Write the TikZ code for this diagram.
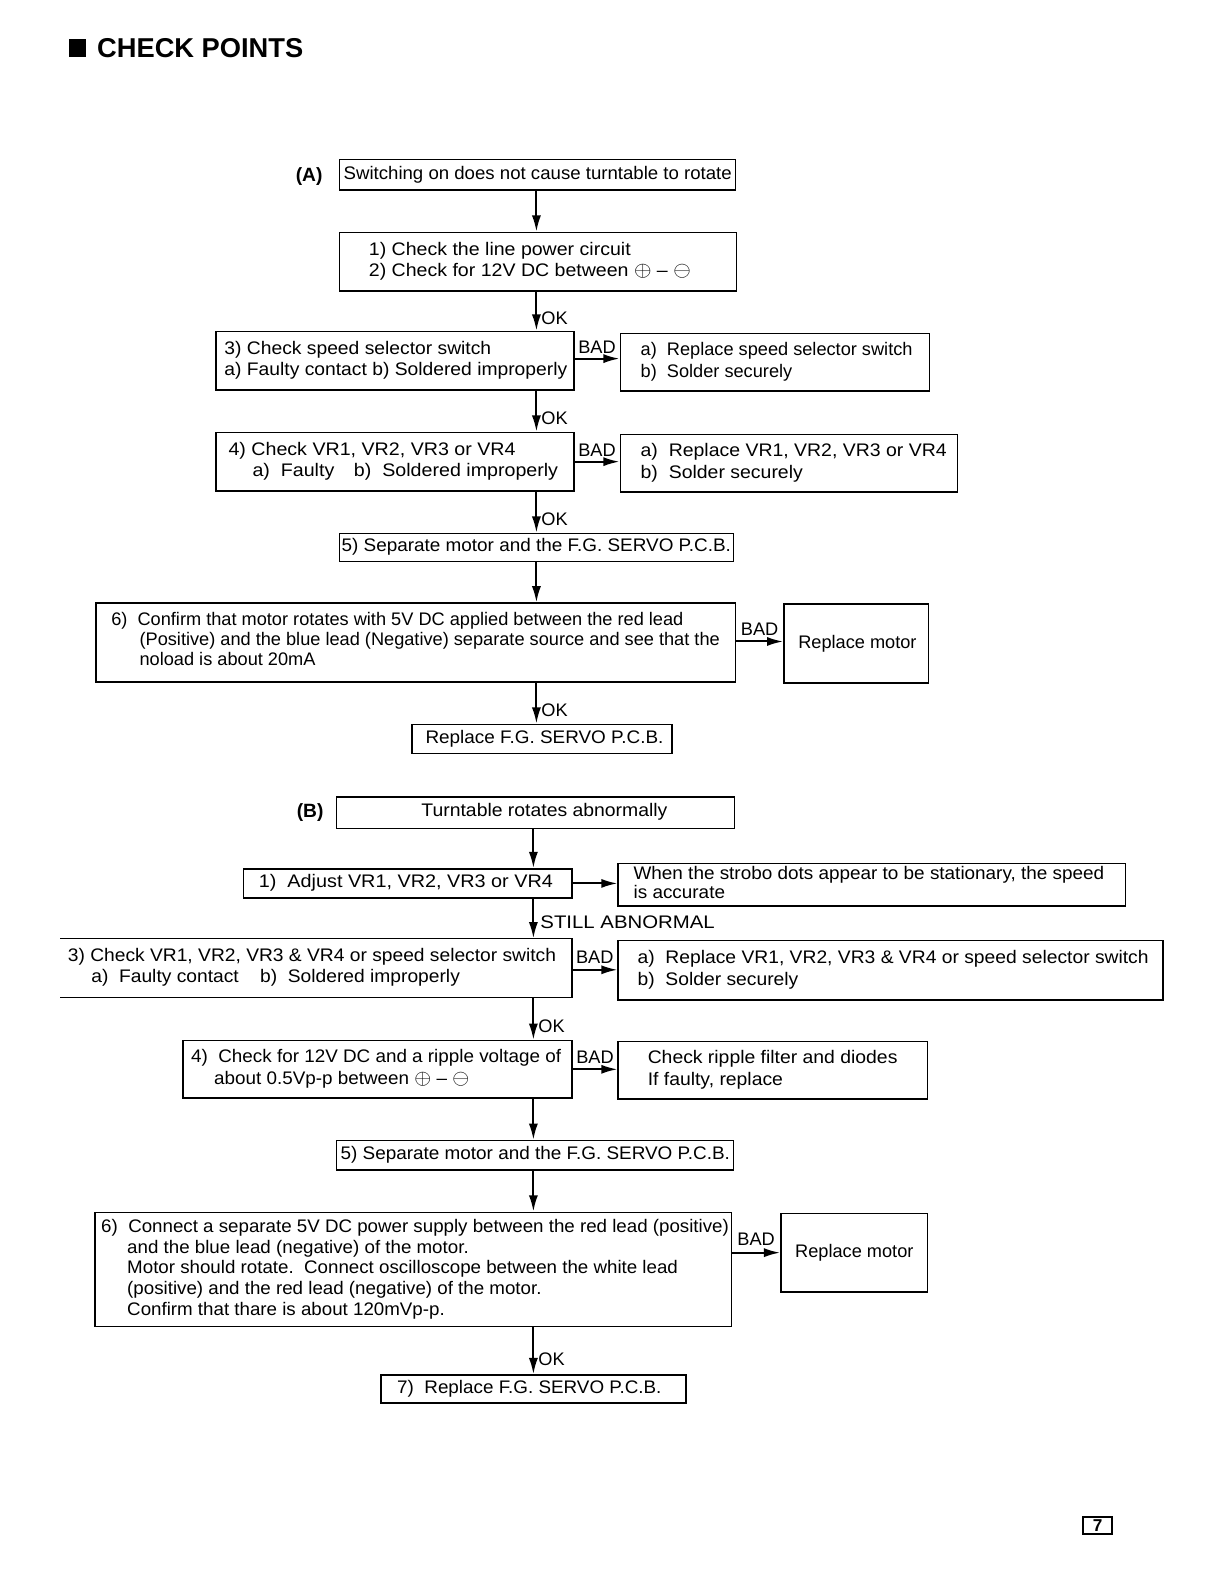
\documentclass[tikz,border=0pt]{standalone}
\usepackage{fontspec}
\usepackage{graphicx}
\setmainfont{Liberation Sans}
\usetikzlibrary{arrows.meta,calc}
\newcommand\sxl[2]{\scalebox{#1}[1]{\begin{tabular}{@{}l@{}}#2\end{tabular}}}
\newcommand\opl{\scalebox{1.2}{$\oplus$}}
\newcommand\omi{\scalebox{1.2}{$\ominus$}}
\begin{document}
\begin{tikzpicture}[x=1pt,y=-1pt,
  box/.style={draw, line width=1.5pt, inner sep=0pt},
  txt/.style={inner sep=0pt, align=left, font=\fontsize{18}{21}\selectfont, anchor=west},
  lbl/.style={inner sep=0pt, font=\fontsize{18}{21}\selectfont},
  arr/.style={line width=2pt, -{Latex[length=16pt,width=9pt]}}]
\useasboundingbox (0,0) rectangle (1212,1568);

% title
\node[fill=black, minimum width=17pt, minimum height=17pt, inner sep=0pt] (bullet) at (77,47.5) {};
\node[inner sep=0pt, anchor=base west, font=\fontsize{27}{30}\selectfont\bfseries] (title) at (96,57) {CHECK POINTS};

% ---------------- (A) ----------------
\node[lbl, font=\fontsize{19}{22}\selectfont\bfseries] (labA) at (306,175) {(A)};
\coordinate (xA) at (531,0);

\node[box, minimum width=392pt, minimum height=30pt] (A0) at (532,173) {};
\node[txt] (A0t) at (340,173) {\sxl{1.024}{Switching on does not cause turntable to rotate}};

\node[box, minimum width=393pt, minimum height=58pt] (A1) at (532.5,259) {};
\node[txt] (A1t) at (365,259) {\sxl{1.075}{1) Check the line power circuit\\2) Check for 12V DC between \opl{} -- \omi}};

\node[box, minimum width=354pt, minimum height=58pt] (A3) at (391,357) {};
\node[txt] (A3t) at (222,357) {\sxl{1.06}{3) Check speed selector switch\\a) Faulty contact b) Soldered improperly}};

\node[box, minimum width=306pt, minimum height=57pt] (A3R) at (767,358.5) {};
\node[txt] (A3Rt) at (634,358.5) {\sxl{1.0}{a)\ \ Replace speed selector switch\\b)\ \ Solder securely}};

\node[box, minimum width=354pt, minimum height=58pt] (A4) at (391,457) {};
\node[txt] (A4t) at (226,457) {\sxl{1.08}{4) Check VR1, VR2, VR3 or VR4\\\hspace*{22pt}a)\ \ Faulty\hspace{18pt}b)\ \ Soldered improperly}};

\node[box, minimum width=334pt, minimum height=57pt] (A4R) at (781,458.5) {};
\node[txt] (A4Rt) at (634,458.5) {\sxl{1.07}{a)\ \ Replace VR1, VR2, VR3 or VR4\\b)\ \ Solder securely}};

\node[box, minimum width=390pt, minimum height=28pt] (A5) at (531,542) {};
\node[txt] (A5t) at (338,542) {\sxl{1.04}{5) Separate motor and the F.G. SERVO P.C.B.}};

\node[box, minimum width=633pt, minimum height=78pt] (A6) at (411.5,636) {};
\node[txt, font=\fontsize{18}{20}\selectfont] (A6t) at (110,635) {\sxl{1.0}{6)\ \ Confirm that motor rotates with 5V DC applied between the red lead\\\hspace*{28pt}(Positive) and the blue lead (Negative) separate source and see that the\\\hspace*{28pt}noload is about 20mA}};

\node[box, minimum width=143pt, minimum height=78pt] (A6R) at (847.5,637) {};
\node[txt] (A6Rt) at (790,637) {Replace motor};

\node[box, minimum width=257pt, minimum height=29pt] (A7) at (536.5,731.5) {};
\node[txt] (A7t) at (421,731.5) {\sxl{1.04}{Replace F.G. SERVO P.C.B.}};

% arrows A
\draw[arr] (A0.south -| xA) -- (A1.north -| xA);
\draw[arr] (A1.south -| xA) -- (A3.north -| xA) node[lbl, pos=0.68, anchor=west, xshift=4pt] (okA1) {OK};
\draw[arr] (A3.south -| xA) -- (A4.north -| xA) node[lbl, pos=0.68, anchor=west, xshift=4pt] (okA2) {OK};
\draw[arr] (A4.south -| xA) -- (A5.north -| xA) node[lbl, pos=0.68, anchor=west, xshift=4pt] (okA3) {OK};
\draw[arr] (A5.south -| xA) -- (A6.north -| xA);
\draw[arr] (A6.south -| xA) -- (A7.north -| xA) node[lbl, pos=0.68, anchor=west, xshift=4pt] (okA4) {OK};

\draw[arr] (A3.east) ++(0,-2) coordinate (a3e) -- (a3e -| A3R.west);
\node[lbl, anchor=south] (badA1) at ($(a3e)!0.5!(a3e -| A3R.west)+(0,-5)$) {BAD};
\draw[arr] (A4.east) ++(0,0) coordinate (a4e) -- (a4e -| A4R.west);
\node[lbl, anchor=south] (badA2) at ($(a4e)!0.5!(a4e -| A4R.west)+(0,-5)$) {BAD};
\draw[arr] (A6.east) ++(0,-1) coordinate (a6e) -- (a6e -| A6R.west);
\node[lbl, anchor=south] (badA3) at ($(a6e)!0.5!(a6e -| A6R.west)+(0,-6)$) {BAD};

% ---------------- (B) ----------------
\node[lbl, font=\fontsize{19}{22}\selectfont\bfseries] (labB) at (307,804) {(B)};
\coordinate (xB) at (528,0);

\node[box, minimum width=394pt, minimum height=31pt] (B0) at (530,804.5) {};
\node[txt] (B0t) at (417,804.5) {\sxl{1.066}{Turntable rotates abnormally}};

\node[box, minimum width=325pt, minimum height=29pt] (B1) at (403.5,874.5) {};
\node[txt] (B1t) at (256,874.5) {\sxl{1.09}{1)\ \ Adjust VR1, VR2, VR3 or VR4}};

\node[box, minimum width=502pt, minimum height=42pt] (B1R) at (863,876) {};
\node[txt, font=\fontsize{18}{18}\selectfont] (B1Rt) at (627,876) {\sxl{1.04}{When the strobo dots appear to be stationary, the speed\\is accurate}};

\node[inner sep=0pt, minimum width=506pt, minimum height=58pt] (B3) at (313,958) {};
\draw[line width=1.5pt] (B3.north west) -- (B3.north east) -- (B3.south east) -- (B3.south west);
\node[txt] (B3t) at (67,958) {\sxl{1.057}{3) Check VR1, VR2, VR3 \& VR4 or speed selector switch\\\hspace*{22pt}a)\ \ Faulty contact\hspace{20pt}b)\ \ Soldered improperly}};

\node[box, minimum width=539pt, minimum height=59pt] (B3R) at (881.5,960.5) {};
\node[txt] (B3Rt) at (631,960.5) {\sxl{1.06}{a)\ \ Replace VR1, VR2, VR3 \& VR4 or speed selector switch\\b)\ \ Solder securely}};

\node[box, minimum width=385pt, minimum height=57pt] (B4) at (373.5,1058.5) {};
\node[txt, font=\fontsize{18}{22}\selectfont] (B4t) at (189,1058.5) {\sxl{1.037}{4)\ \ Check for 12V DC and a ripple voltage of\\\hspace*{22pt}about 0.5Vp-p between \opl{} -- \omi}};

\node[box, minimum width=306pt, minimum height=57pt] (B4R) at (765,1059.5) {};
\node[txt] (B4Rt) at (641,1059.5) {\sxl{1.065}{Check ripple filter and diodes\\If faulty, replace}};

\node[box, minimum width=393pt, minimum height=29pt] (B5) at (529.5,1143.5) {};
\node[txt] (B5t) at (337,1143.5) {\sxl{1.04}{5) Separate motor and the F.G. SERVO P.C.B.}};

\node[box, minimum width=630pt, minimum height=113pt] (B6) at (409,1256.5) {};
\node[txt, font=\fontsize{18}{20.5}\selectfont] (B6t) at (100,1257) {\sxl{1.03}{6)\ \ Connect a separate 5V DC power supply between the red lead (positive)\\\hspace*{25pt}and the blue lead (negative) of the motor.\\\hspace*{25pt}Motor should rotate.\ \ Connect oscilloscope between the white lead\\\hspace*{25pt}(positive) and the red lead (negative) of the motor.\\\hspace*{25pt}Confirm that thare is about 120mVp-p.}};

\node[box, minimum width=145pt, minimum height=78pt] (B6R) at (845.5,1240) {};
\node[txt] (B6Rt) at (787,1240) {Replace motor};

\node[box, minimum width=302pt, minimum height=28pt] (B7) at (528,1375) {};
\node[txt] (B7t) at (393,1375) {\sxl{1.036}{7)\ \ Replace F.G. SERVO P.C.B.}};

% arrows B
\draw[arr] (B0.south -| xB) -- (B1.north -| xB);
\draw[arr] (B1.south -| xB) -- (B3.north -| xB) node[lbl, pos=0.6, anchor=west, xshift=6pt] (still) {\scalebox{1.12}[1]{STILL ABNORMAL}};
\draw[arr] (B3.south -| xB) -- (B4.north -| xB) node[lbl, pos=0.68, anchor=west, xshift=4pt] (okB1) {OK};
\draw[arr] (B4.south -| xB) -- (B5.north -| xB);
\draw[arr] (B5.south -| xB) -- (B6.north -| xB);
\draw[arr] (B6.south -| xB) -- (B7.north -| xB) node[lbl, pos=0.68, anchor=west, xshift=4pt] (okB2) {OK};

\draw[arr] (B1.east) -- (B1.east -| B1R.west);
\draw[arr] (B3.east) ++(0,2) coordinate (b3e) -- (b3e -| B3R.west);
\node[lbl, anchor=south] (badB1) at ($(b3e)!0.5!(b3e -| B3R.west)+(0,-6)$) {BAD};
\draw[arr] (B4.east) -- (B4.east -| B4R.west);
\node[lbl, anchor=south] (badB2) at ($(B4.east)!0.5!(B4.east -| B4R.west)+(0,-6)$) {BAD};
\draw[arr] (B6.east |- B6R.west) -- (B6R.west);
\node[lbl, anchor=south] (badB3) at ($(B6.east |- B6R.west)!0.5!(B6R.west)+(0,-7)$) {BAD};

% page number
\node[draw, line width=1.5pt, minimum width=29pt, minimum height=17pt, inner sep=0pt, font=\fontsize{17}{17}\selectfont\bfseries] (pg) at (1086.5,1510) {7};
\end{tikzpicture}
\end{document}
